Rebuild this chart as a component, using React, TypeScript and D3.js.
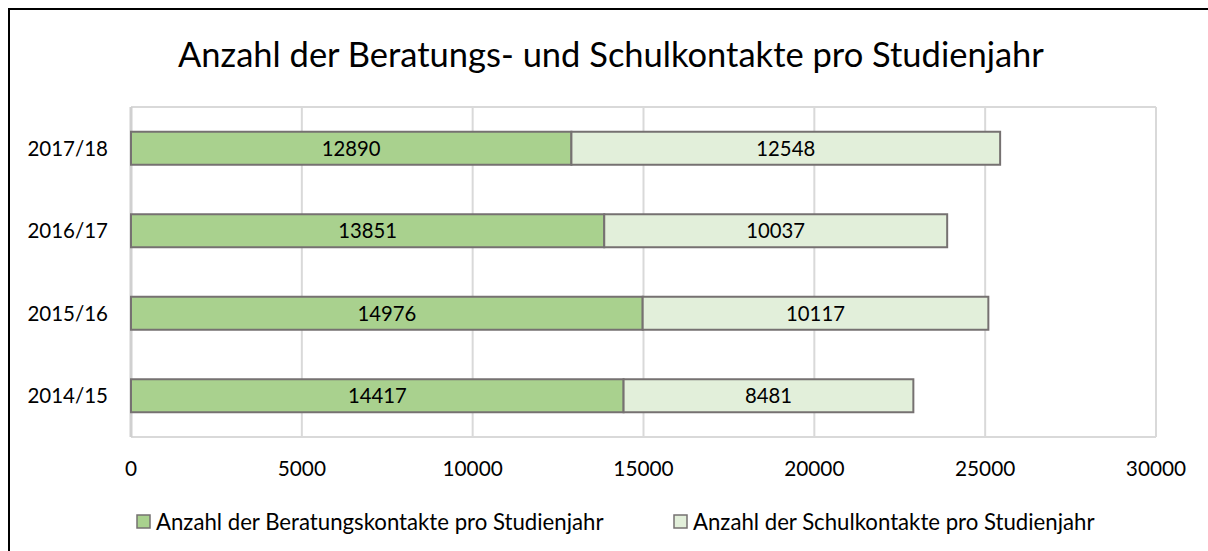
import React from 'react';
import { scaleLinear, scaleBand } from 'd3';

const years = ['2017/18', '2016/17', '2015/16', '2014/15'];
const beratung = [12890, 13851, 14976, 14417];
const schule = [12548, 10037, 10117, 8481];
const xTicks = [0, 5000, 10000, 15000, 20000, 25000, 30000];
const seriesNames = [
  'Anzahl der Beratungskontakte pro Studienjahr',
  'Anzahl der Schulkontakte pro Studienjahr',
];
const colors = ['#a9d18e', '#e2efda'];

const W = 1208;
const H = 551;
const font = 'Lato, "Open Sans", sans-serif';

const App = () => {
  const left = 131;
  const right = 1156;
  const top = 107;
  const bottom = 437;

  const x = scaleLinear().domain([0, 30000]).range([left, right]);
  const y = scaleBand().domain(years).range([top, bottom]).paddingInner(0.6).paddingOuter(0.3);

  // legend item positions
  const legendX = [136, 673];

  return (
    <div style={{ position: 'absolute', left: 0, top: 0 }}>
      <svg width={W} height={H} style={{ display: 'block', fontFamily: font }}>
        <rect x={0} y={0} width={W} height={H} fill="#fff" />
        <rect x={9} y={9} width={W + 10} height={H + 10} fill="none" stroke="#000" strokeWidth={2} />

        <text x={611} y={67} textAnchor="middle" fontSize={34.5} fill="#000">
          Anzahl der Beratungs- und Schulkontakte pro Studienjahr
        </text>

        {/* gridlines */}
        {xTicks.map(t => (
          <line key={t} x1={x(t)} x2={x(t)} y1={top} y2={bottom} stroke="#d9d9d9" strokeWidth={2} />
        ))}
        <line x1={left} x2={right} y1={top} y2={top} stroke="#d9d9d9" strokeWidth={2} />
        <line x1={left} x2={right} y1={bottom} y2={bottom} stroke="#d9d9d9" strokeWidth={2} />
        <line x1={left} x2={left} y1={top} y2={bottom} stroke="#d0d0d0" strokeWidth={3} />

        {/* bars */}
        {years.map((yr, i) => {
          const y0 = y(yr) as number;
          const bw = y.bandwidth();
          const a = beratung[i];
          const b = schule[i];
          return (
            <g key={yr}>
              <rect x={x(0)} y={y0} width={x(a) - x(0)} height={bw} fill={colors[0]} stroke="#767171" strokeWidth={2} />
              <rect x={x(a)} y={y0} width={x(a + b) - x(a)} height={bw} fill={colors[1]} stroke="#767171" strokeWidth={2} />
              <text x={(x(0) + x(a)) / 2} y={y0 + bw / 2 + 7.5} textAnchor="middle" fontSize={20.3} fill="#000">{a}</text>
              <text x={(x(a) + x(a + b)) / 2} y={y0 + bw / 2 + 7.5} textAnchor="middle" fontSize={20.3} fill="#000">{b}</text>
              <text x={108} y={y0 + bw / 2 + 7.5} textAnchor="end" fontSize={20.5} fill="#000">{yr}</text>
            </g>
          );
        })}

        {/* x tick labels */}
        {xTicks.map(t => (
          <text key={t} x={x(t)} y={476} textAnchor="middle" fontSize={20.8} fill="#000">{t}</text>
        ))}

        {/* legend */}
        {legendX.map((lx, i) => (
          <g key={i}>
            <rect x={lx + 1} y={515} width={13} height={13} fill={colors[i]} stroke="#767171" strokeWidth={1.5} />
            <text x={lx + 20} y={530} fontSize={22.2} fill="#000">{seriesNames[i]}</text>
          </g>
        ))}
      </svg>
    </div>
  );
};

export default App;
